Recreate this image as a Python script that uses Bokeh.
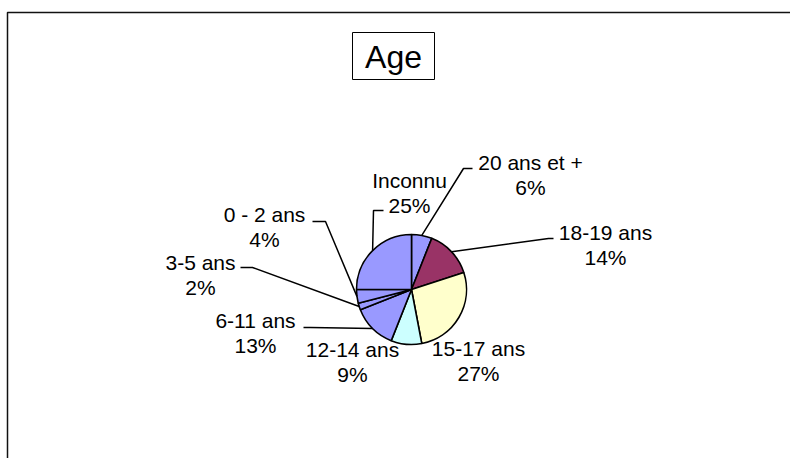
import math
from bokeh.plotting import figure
from bokeh.models import Range1d, ColumnDataSource
from bokeh.core.properties import value
from bokeh.embed import file_html
from bokeh.resources import INLINE

# ---- data ----
categories = ["20 ans et +", "18-19 ans", "15-17 ans", "12-14 ans",
              "6-11 ans", "3-5 ans", "0 - 2 ans", "Inconnu"]
percents = [6, 14, 27, 9, 13, 2, 4, 25]
slice_colors = ["#9999FF", "#993366", "#FFFFCC", "#CCFFFF",
                "#9999FF", "#9999FF", "#9999FF", "#9999FF"]
title_text = "Age"

# ---- layout (picture pixel coordinates) ----
W, H = 790, 458
def px(X):
    return X
def py(Y):
    return H - Y

PIE_X, PIE_Y, PIE_R = 411, 289, 55
label_pos = {
    "20 ans et +": (530, 162, [(472, 168), (463, 168)]),
    "18-19 ans": (605, 232, [(553, 238), (548, 238)]),
    "15-17 ans": (478, 348, None),
    "12-14 ans": (352, 349, None),
    "6-11 ans": (255, 320, [(303, 327), (310, 327)]),
    "3-5 ans": (200, 262, [(240, 267), (252, 267)]),
    "0 - 2 ans": (264, 214, [(312, 221), (325, 221)]),
    "Inconnu": (409, 180, [(383, 210), (373, 210)]),
}
LINE_GAP = 25
FONT = value("Liberation Sans")
FS = "21px"

p = figure(width=W, height=H, x_range=Range1d(0, W), y_range=Range1d(0, H),
           x_axis_type=None, y_axis_type=None, output_backend="svg",
           toolbar_location=None, min_border=0)
p.grid.visible = False
p.outline_line_color = None
p.background_fill_color = "white"
p.border_fill_color = "white"

# chart-area frame (left and top edges visible)
p.line(x=[px(7), px(7), W], y=[0, py(12), py(12)], line_color="#111111", line_width=1.5)

# pie
cx, cy, r = px(PIE_X), py(PIE_Y), PIE_R
total = sum(percents)
starts, ends, mids = [], [], []
cum = 0
for v in percents:
    s = math.pi / 2 - 2 * math.pi * cum / total
    cum += v
    e = math.pi / 2 - 2 * math.pi * cum / total
    starts.append(s)
    ends.append(e)
    mids.append((s + e) / 2)

src = ColumnDataSource(dict(x=[cx] * len(percents), y=[cy] * len(percents),
                            start=starts, end=ends, color=slice_colors))
p.wedge(x="x", y="y", radius=r, start_angle="start", end_angle="end",
        direction="clock", fill_color="color", line_color="black",
        line_width=1.6, source=src)

# labels and leader lines
lx, ly, names, pcts, pcy = [], [], [], [], []
lead_xs, lead_ys = [], []
for cat, v, m in zip(categories, percents, mids):
    X, Y, elbow = label_pos[cat]
    lx.append(px(X))
    ly.append(py(Y))
    pcy.append(py(Y + LINE_GAP))
    names.append(cat)
    pcts.append(f"{v}%")
    if elbow:
        ex = cx + r * math.cos(m)
        ey = cy + r * math.sin(m)
        xs = [px(a) for a, b in elbow] + [ex]
        ys = [py(b) for a, b in elbow] + [ey]
        lead_xs.append(xs)
        lead_ys.append(ys)

p.multi_line(xs=lead_xs, ys=lead_ys, line_color="black", line_width=1.5)
p.text(x=lx, y=ly, text=names, text_font=FONT, text_font_size=FS,
       text_align="center", text_baseline="middle", text_color="#000000")
p.text(x=lx, y=pcy, text=pcts, text_font=FONT, text_font_size=FS,
       text_align="center", text_baseline="middle", text_color="#000000")

# title box
p.quad(left=px(352), right=px(434), top=py(32), bottom=py(79),
       fill_color="white", line_color="black", line_width=1)
p.text(x=[px(393)], y=[py(56)], text=[title_text], text_font=FONT,
       text_font_size="32px", text_align="center", text_baseline="middle",
       text_color="#000000")

open("out.html", "w").write(file_html(p, INLINE))
